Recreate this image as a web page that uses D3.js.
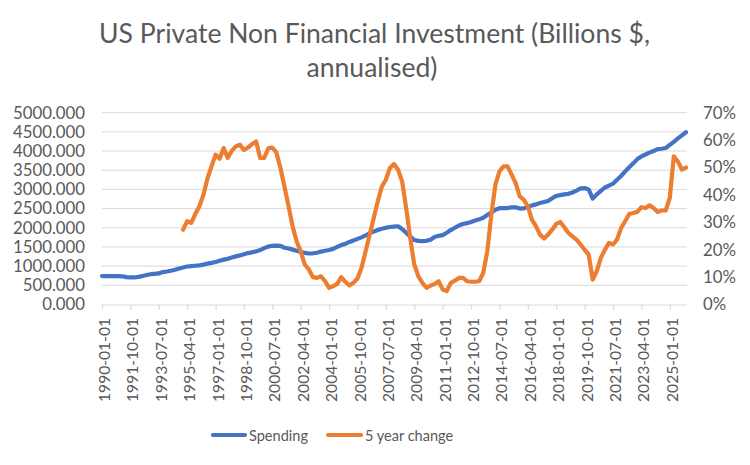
<!DOCTYPE html>
<html>
<head>
<meta charset="utf-8">
<script src="https://cdn.jsdelivr.net/npm/d3@7"></script>
<style>
  html, body { margin: 0; padding: 0; background: #fff; }
  svg { display: block; }
  text { font-family: Lato, "Open Sans", sans-serif; }
</style>
</head>
<body>
<svg id="chart" width="750" height="465"></svg>
<script>
// ---------- DATA (quarterly, 1990-01-01 onward) ----------
const startYear = 1990;
const spending = [
  740, 740, 740, 738, 738, 735, 715, 705, 705, 720,
  745, 770, 790, 800, 810, 845, 860, 880, 905, 940,
  965, 990, 1000, 1010, 1020, 1040, 1065, 1085, 1110, 1140,
  1170, 1190, 1225, 1255, 1280, 1310, 1340, 1360, 1385, 1420,
  1470, 1510, 1530, 1535, 1530, 1480, 1460, 1430, 1400, 1370,
  1345, 1330, 1335, 1350, 1380, 1400, 1420, 1450, 1500, 1550,
  1580, 1630, 1670, 1710, 1750, 1800, 1860, 1900, 1940, 1975,
  2000, 2020, 2030, 2040, 1970, 1870, 1770, 1680, 1660, 1650,
  1660, 1690, 1760, 1790, 1810, 1870, 1940, 2000, 2060, 2100,
  2120, 2150, 2190, 2220, 2260, 2330, 2400, 2470, 2510, 2515,
  2515, 2530, 2535, 2500, 2505, 2545, 2580, 2610, 2645, 2670,
  2700, 2770, 2830, 2850, 2870, 2885, 2920, 2970, 3025, 3035,
  3000, 2760, 2870, 2960, 3050, 3100, 3150, 3250, 3350, 3470,
  3580, 3680, 3790, 3860, 3910, 3960, 4000, 4050, 4060, 4080,
  4160, 4240, 4330, 4410, 4490
];
// 5 year change in percent (first 20 quarters have no value)
const fiveYearChange = [
  null, null, null, null, null, null, null, null, null, null,
  null, null, null, null, null, null, null, null, null, null,
  27.3, 30.4, 29.8, 33.0, 35.8, 40.0, 46.0, 50.4, 54.7, 53.2,
  57.1, 53.5, 56.1, 57.7, 58.3, 56.4, 57.3, 58.5, 59.5, 53.5,
  53.5, 57.0, 57.3, 55.5, 49.8, 43.0, 35.8, 28.5, 23.0, 19.4,
  14.6, 12.8, 10.0, 9.7, 10.3, 8.5, 6.1, 6.7, 7.5, 10.0,
  8.3, 6.9, 7.9, 9.5, 13.4, 19.4, 25.5, 31.6, 37.7, 43.0,
  45.6, 49.8, 51.3, 49.2, 45.0, 35.2, 24.3, 14.6, 10.3, 7.9,
  6.1, 6.9, 7.5, 8.5, 5.5, 4.9, 7.9, 8.7, 9.7, 9.7,
  8.5, 8.3, 8.3, 8.5, 11.5, 19.4, 32.8, 43.7, 48.6, 50.4,
  50.4, 47.4, 44.3, 39.5, 38.3, 35.8, 31.0, 28.6, 25.5, 24.1,
  25.5, 27.3, 29.4, 30.1, 28.2, 26.1, 24.9, 23.7, 21.9, 20.0,
  18.2, 9.1, 12.2, 17.0, 20.0, 22.5, 21.9, 23.7, 27.9, 30.4,
  33.0, 33.4, 33.8, 35.5, 35.2, 36.2, 35.2, 33.8, 34.3, 34.3,
  38.9, 54.1, 52.2, 49.2, 50.0
];
const xTickLabels = [
  "1990-01-01", "1991-10-01", "1993-07-01", "1995-04-01", "1997-01-01",
  "1998-10-01", "2000-07-01", "2002-04-01", "2004-01-01", "2005-10-01",
  "2007-07-01", "2009-04-01", "2011-01-01", "2012-10-01", "2014-07-01",
  "2016-04-01", "2018-01-01", "2019-10-01", "2021-07-01", "2023-04-01",
  "2025-01-01"
];
const leftTicks = [0, 500, 1000, 1500, 2000, 2500, 3000, 3500, 4000, 4500, 5000];
const rightTicks = [0, 10, 20, 30, 40, 50, 60, 70];
const seriesNames = ["Spending", "5 year change"];
const titleLines = ["US Private Non Financial Investment (Billions $,", "annualised)"];

// ---------- LAYOUT ----------
const svg = d3.select("#chart");
const plot = { left: 102, right: 686, top: 112.7, bottom: 304.5 };
const blue = "#4472C4", orange = "#ED7D31", grid = "#D9D9D9", textCol = "#595959";

const x = d3.scaleLinear().domain([0, spending.length - 1]).range([plot.left, plot.right]);
const yL = d3.scaleLinear().domain([0, 5000]).range([plot.bottom, plot.top]);
const yR = d3.scaleLinear().domain([0, 70]).range([plot.bottom, plot.top]);

// fit helper: set font-size so that text reaches target width
function fit(sel, target) {
  const w = sel.node().getComputedTextLength();
  const fs = parseFloat(sel.attr("font-size"));
  sel.attr("font-size", (fs * target / w).toFixed(2));
  return fs * target / w;
}

// Title
const t1 = svg.append("text").attr("x", 374.5).attr("y", 43).attr("text-anchor", "middle")
  .attr("font-size", 22).attr("fill", textCol).text(titleLines[0]);
const tfs = fit(t1, 551);
svg.append("text").attr("x", 372).attr("y", 76.5).attr("text-anchor", "middle")
  .attr("font-size", tfs).attr("fill", textCol).text(titleLines[1]);

// Gridlines
svg.append("g").selectAll("line").data(leftTicks.filter(d => d > 0)).join("line")
  .attr("x1", plot.left).attr("x2", plot.right + 1)
  .attr("y1", d => yL(d)).attr("y2", d => yL(d))
  .attr("stroke", grid).attr("stroke-width", 1);

// Left axis labels
const lg = svg.append("g").attr("transform", `translate(${plot.left},0)`)
  .call(d3.axisLeft(yL).tickValues(leftTicks).tickFormat(d3.format(".3f")).tickSize(0).tickPadding(17));
lg.select(".domain").remove();
lg.selectAll("text").attr("fill", textCol).attr("font-size", 16).style("font-family", "Lato");
const lfs = fit(lg.selectAll("text").filter(d => d === 5000), 72);
lg.selectAll("text").attr("font-size", lfs);

// Right axis labels
const rg = svg.append("g").attr("transform", `translate(${plot.right},0)`)
  .call(d3.axisRight(yR).tickValues(rightTicks).tickFormat(d => d + "%").tickSize(0).tickPadding(17));
rg.select(".domain").remove();
rg.selectAll("text").attr("fill", textCol).attr("font-size", lfs).style("font-family", "Lato");

// Bottom axis
const xTickIdx = xTickLabels.map((d, i) => i * 7);
const bg = svg.append("g").attr("transform", `translate(0,${plot.bottom})`)
  .call(d3.axisBottom(x).tickValues(xTickIdx).tickFormat((d, i) => xTickLabels[i]).tickSize(5).tickSizeOuter(0));
bg.select(".domain").attr("stroke", grid).attr("stroke-width", 1.2)
  .attr("d", `M${plot.left},0.5H${plot.right + 1}`);
bg.selectAll(".tick line").attr("stroke", grid).attr("stroke-width", 1.2);
bg.selectAll(".tick text")
  .attr("fill", textCol).attr("font-size", 15).style("font-family", "Lato")
  .attr("text-anchor", "end").attr("dominant-baseline", "central")
  .attr("transform", "rotate(-90)").attr("x", -13.5).attr("y", 1.5).attr("dy", null);
const xfs = fit(bg.selectAll(".tick text").filter((d, i) => i === 0), 84);
bg.selectAll(".tick text").attr("font-size", xfs);

// Lines
const lineL = d3.line().x((d, i) => x(i)).y(d => yL(d));
svg.append("path").datum(spending).attr("d", lineL)
  .attr("fill", "none").attr("stroke", blue).attr("stroke-width", 4.2)
  .attr("stroke-linejoin", "round").attr("stroke-linecap", "round");

const changeData = fiveYearChange.map((v, i) => ({ i, v }));
const lineR = d3.line().defined(d => d.v !== null).x(d => x(d.i)).y(d => yR(d.v));
svg.append("path").datum(changeData).attr("d", lineR)
  .attr("fill", "none").attr("stroke", orange).attr("stroke-width", 4.2)
  .attr("stroke-linejoin", "round").attr("stroke-linecap", "round");

// Legend
const legend = [
  { name: seriesNames[0], color: blue, x1: 213, x2: 245, tx: 249 },
  { name: seriesNames[1], color: orange, x1: 328, x2: 361, tx: 365 }
];
const lgY = 435;
const leg = svg.append("g");
leg.selectAll("line").data(legend).join("line")
  .attr("x1", d => d.x1).attr("x2", d => d.x2).attr("y1", lgY).attr("y2", lgY)
  .attr("stroke", d => d.color).attr("stroke-width", 4.2).attr("stroke-linecap", "round");
const legTexts = leg.selectAll("text").data(legend).join("text")
  .attr("x", d => d.tx).attr("y", lgY).attr("dominant-baseline", "central")
  .attr("font-size", 15).attr("fill", textCol).text(d => d.name);
const gfs = fit(legTexts.filter((d, i) => i === 0), 59);
legTexts.attr("font-size", gfs);
</script>
</body>
</html>
